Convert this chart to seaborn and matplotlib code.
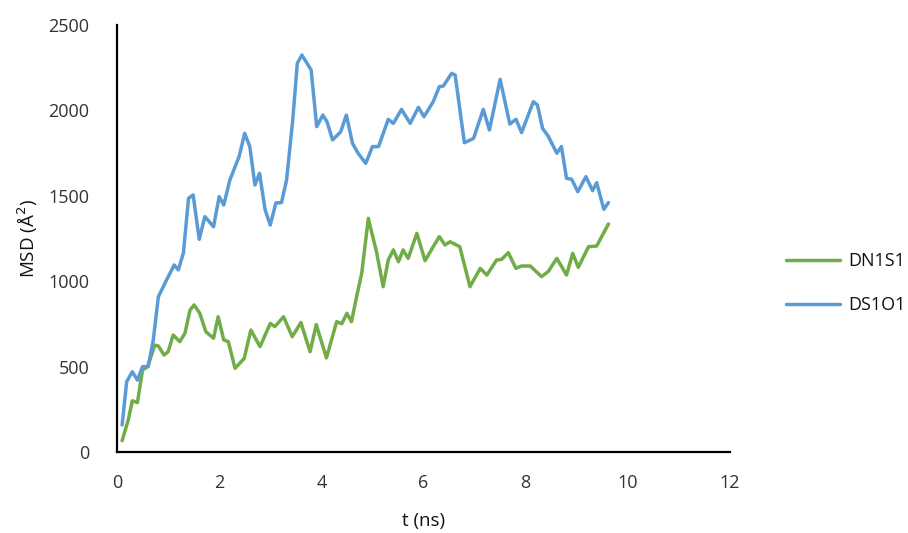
import matplotlib
matplotlib.use("Agg")
import matplotlib.pyplot as plt
import seaborn as sns
import pandas as pd

# DS1O1 (blue)
t_ds1o1 = [0.10, 0.19, 0.30, 0.40, 0.50, 0.61, 0.71, 0.81, 0.97, 1.12, 1.20, 1.30, 1.40, 1.49,
           1.61, 1.72, 1.89, 2.00, 2.09, 2.21, 2.39, 2.50, 2.60, 2.70, 2.79, 2.90, 3.00, 3.11,
           3.22, 3.32, 3.44, 3.53, 3.62, 3.80, 3.91, 4.03, 4.11, 4.22, 4.38, 4.49, 4.61, 4.72,
           4.87, 5.00, 5.12, 5.31, 5.41, 5.57, 5.74, 5.90, 6.01, 6.19, 6.31, 6.39, 6.55, 6.62,
           6.80, 6.98, 7.17, 7.29, 7.50, 7.69, 7.81, 7.92, 8.15, 8.23, 8.33, 8.44, 8.61, 8.70,
           8.80, 8.90, 9.02, 9.18, 9.31, 9.39, 9.53, 9.62]
msd_ds1o1 = [158, 412, 470, 421, 500, 500, 656, 909, 1007, 1095, 1066, 1165, 1485, 1505,
             1245, 1378, 1319, 1495, 1446, 1593, 1729, 1866, 1788, 1563, 1632, 1417, 1329, 1458,
             1460, 1593, 1944, 2276, 2324, 2237, 1905, 1973, 1934, 1827, 1875, 1973, 1807, 1749,
             1690, 1788, 1788, 1948, 1924, 2006, 1924, 2018, 1963, 2051, 2139, 2143, 2217, 2207,
             1811, 1836, 2006, 1885, 2182, 1920, 1948, 1870, 2051, 2032, 1895, 1850, 1749, 1788,
             1602, 1597, 1524, 1612, 1530, 1577, 1421, 1460]

# DN1S1 (green)
t_dn1s1 = [0.10, 0.22, 0.30, 0.40, 0.50, 0.60, 0.74, 0.81, 0.92, 1.00, 1.10, 1.23, 1.33, 1.43,
           1.51, 1.62, 1.74, 1.89, 1.98, 2.09, 2.18, 2.31, 2.49, 2.62, 2.80, 3.00, 3.09, 3.26,
           3.43, 3.60, 3.78, 3.90, 4.10, 4.30, 4.40, 4.50, 4.59, 4.69, 4.79, 4.92, 4.99, 5.08,
           5.21, 5.31, 5.41, 5.51, 5.60, 5.70, 5.87, 6.03, 6.19, 6.31, 6.42, 6.52, 6.71, 6.91,
           7.11, 7.24, 7.43, 7.53, 7.66, 7.81, 7.92, 8.09, 8.31, 8.44, 8.61, 8.80, 8.92, 9.03,
           9.23, 9.39, 9.62]
msd_dn1s1 = [66, 187, 300, 289, 480, 500, 626, 620, 568, 587, 685, 646, 695, 831,
             861, 812, 704, 666, 792, 656, 646, 490, 548, 714, 617, 753, 734, 792,
             675, 758, 587, 746, 551, 763, 751, 812, 763, 909, 1046, 1368, 1280, 1173,
             968, 1124, 1183, 1114, 1183, 1134, 1280, 1120, 1202, 1261, 1212, 1231, 1202, 968,
             1075, 1036, 1124, 1128, 1167, 1075, 1089, 1089, 1027, 1056, 1134, 1036, 1163, 1081,
             1202, 1206, 1335]

series_names = ["DN1S1", "DS1O1"]
colors = ["#70AD47", "#5B9BD5"]
x_ticks = [0, 2, 4, 6, 8, 10, 12]
y_ticks = [0, 500, 1000, 1500, 2000, 2500]

df = pd.concat([
    pd.DataFrame({"t": t_dn1s1, "msd": msd_dn1s1, "series": series_names[0]}),
    pd.DataFrame({"t": t_ds1o1, "msd": msd_ds1o1, "series": series_names[1]}),
], ignore_index=True)

sns.set_theme(style="white")
plt.rcParams["font.family"] = ["Open Sans", "DejaVu Sans"]

fig = plt.figure(figsize=(9.08, 5.33), dpi=100)
ax = fig.add_axes([117/908, 1-452/533, (730-117)/908, (452-25)/533])

sns.lineplot(data=df, x="t", y="msd", hue="series", hue_order=series_names,
             palette=dict(zip(series_names, colors)), linewidth=2.5, ax=ax,
             sort=False, estimator=None, solid_joinstyle="round", solid_capstyle="round")

ax.set_xlim(0, 12)
ax.set_ylim(0, 2500)
ax.set_xticks(x_ticks)
ax.set_yticks(y_ticks)
ax.tick_params(axis="both", length=0, labelsize=13, colors="#333333")
ax.tick_params(axis="x", pad=16)
ax.tick_params(axis="y", pad=20)
for s in ["top", "right"]:
    ax.spines[s].set_visible(False)
for s in ["left", "bottom"]:
    ax.spines[s].set_color("#000000")
    ax.spines[s].set_linewidth(1.6)

ax.set_xlabel("t (ns)", fontsize=13.5, color="#111111", labelpad=14)
ax.set_ylabel("MSD (Å$^2$)", fontsize=13.5, color="#111111", labelpad=6)

handles, labels = ax.get_legend_handles_labels()
leg = ax.legend(handles, labels, loc="center left", bbox_to_anchor=(770/908, 1-283/533),
                bbox_transform=fig.transFigure, frameon=False, fontsize=13,
                handlelength=3.0, labelspacing=1.45, handletextpad=0.45)
for txt in leg.get_texts():
    txt.set_color("#111111")

fig.savefig("out.png", dpi=100)
